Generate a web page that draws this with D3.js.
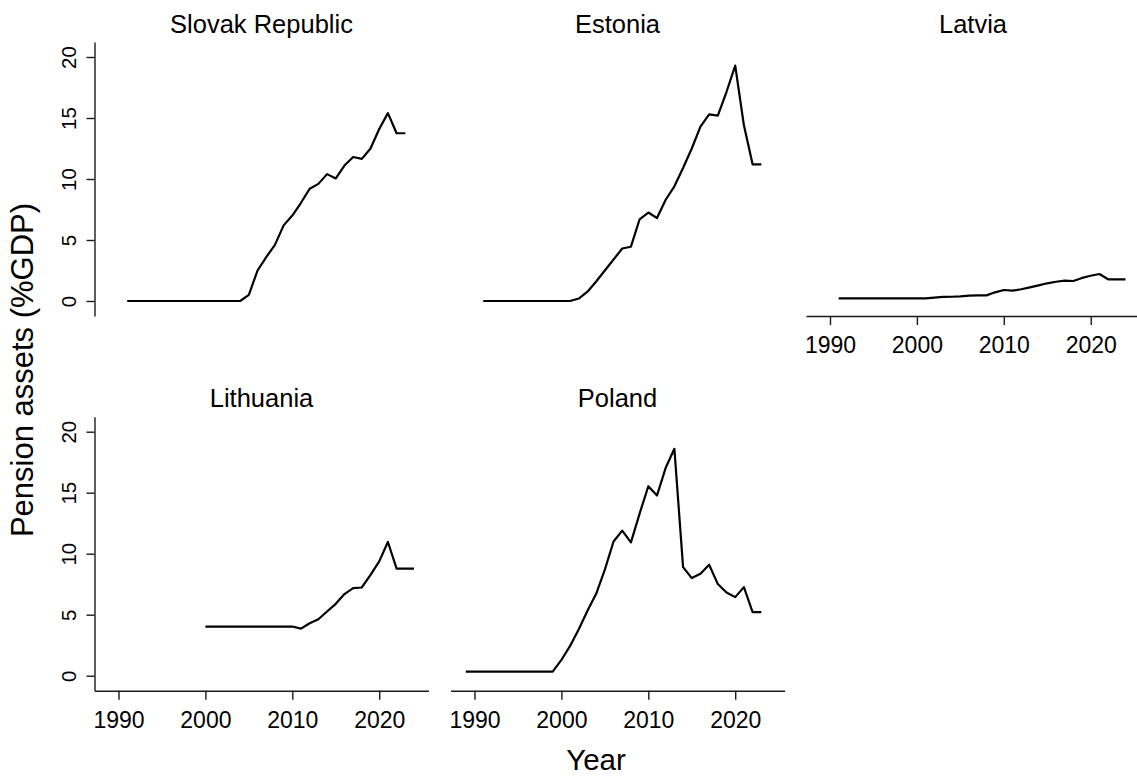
<!DOCTYPE html>
<html>
<head>
<meta charset="utf-8">
<script src="https://d3js.org/d3.v7.min.js"></script>
<style>
  body { margin: 0; background: white; }
  svg, svg text { font-family: "Liberation Sans", Arial, sans-serif; }
  .axis path, .axis line { stroke: #1a1a1a; stroke-width: 1.4; }
  .axis text { fill: #000; }
</style>
</head>
<body>
<svg id="chart" width="1137" height="778"></svg>
<script>
// pension assets, % of GDP
var countries = ["Slovak Republic", "Estonia", "Latvia", "Lithuania", "Poland"];
var startYears = [1991, 1991, 1991, 2000, 1989];

var slovakValues = [0,0,0,0,0,0,0,0,0,0,0,0,0,0,
  0.5, 2.5, 3.6, 4.6, 6.2, 7.0, 8.05, 9.2, 9.6, 10.4, 10.05, 11.1, 11.8, 11.65, 12.5, 14.1, 15.4, 13.75, 13.75];
var estoniaValues = [0,0,0,0,0,0,0,0,0,0,0,
  0.2, 0.76, 1.6, 2.5, 3.4, 4.3, 4.45, 6.7, 7.25, 6.8, 8.3, 9.4, 10.9, 12.5, 14.3, 15.3, 15.2, 17.15, 19.3, 14.4, 11.2, 11.2];
var latviaValues = [0.22,0.22,0.22,0.22,0.22,0.22,0.22,0.22,0.22,0.22,0.22,
  0.27, 0.33, 0.35, 0.38, 0.44, 0.46, 0.46, 0.71, 0.9, 0.85, 0.96, 1.12, 1.28, 1.45, 1.58, 1.67, 1.64, 1.89, 2.07, 2.21, 1.78, 1.78, 1.78];
var lithuaniaValues = [4.03,4.03,4.03,4.03,4.03,4.03,4.03,4.03,4.03,4.03,4.03,
  3.86, 4.3, 4.63, 5.26, 5.89, 6.69, 7.18, 7.23, 8.27, 9.37, 10.96, 8.77, 8.77, 8.77];
var polandValues = [0.33,0.33,0.33,0.33,0.33,0.33,0.33,0.33,0.33,0.33,0.33,
  1.29, 2.44, 3.81, 5.32, 6.71, 8.69, 11.0, 11.89, 10.93, 13.29, 15.53, 14.77, 17.04, 18.6,
  8.9, 8.0, 8.36, 9.1, 7.51, 6.82, 6.44, 7.26, 5.21, 5.21];
var allValues = [slovakValues, estoniaValues, latviaValues, lithuaniaValues, polandValues];

var yTicks = [0, 5, 10, 15, 20];
var xTicks = [1990, 2000, 2010, 2020];

// panel placement: col, row, which axes are shown
var panelCol = [0, 1, 2, 0, 1];
var panelRow = [0, 0, 0, 1, 1];
var showY = [true, false, false, true, false];
var showX = [false, false, true, true, true];

var svg = d3.select("#chart");
var plotW = 334, plotH = 274;
var colX = [94.5, 450.5, 806];
var rowY = [42, 416.7];

var x = d3.scaleLinear().domain([1987.24, 2025.67]).range([0, plotW]);
var y = d3.scaleLinear().domain([-1.23, 21.23]).range([plotH, 0]);

var line = d3.line()
  .x(function(d) { return x(d.year); })
  .y(function(d) { return y(d.value); });

var font = '"Liberation Sans", Arial, sans-serif';

countries.forEach(function(name, i) {
  var g = svg.append("g")
    .attr("transform", "translate(" + colX[panelCol[i]] + "," + rowY[panelRow[i]] + ")");

  g.append("text")
    .attr("x", plotW / 2)
    .attr("y", -9.5)
    .attr("text-anchor", "middle")
    .style("font-size", "25.5px")
    .text(name);

  var data = allValues[i].map(function(v, k) { return {year: startYears[i] + k, value: v}; });
  g.append("path")
    .datum(data)
    .attr("d", line)
    .attr("fill", "none")
    .attr("stroke", "#000")
    .attr("stroke-width", 2.2)
    .attr("stroke-linejoin", "round");

  if (showY[i]) {
    var ya = g.append("g").attr("class", "axis")
      .call(d3.axisLeft(y).tickValues(yTicks).tickSize(8).tickSizeOuter(0));
    ya.attr("font-family", font);
    ya.selectAll(".tick text")
      .attr("transform", "rotate(-90)")
      .attr("x", 0).attr("y", -18.5).attr("dy", 0)
      .attr("text-anchor", "middle")
      .style("font-size", "20.5px");
    ya.select(".domain").attr("fill", "none");
  }
  if (showX[i]) {
    var xa = g.append("g").attr("class", "axis")
      .attr("transform", "translate(0," + plotH + ")")
      .call(d3.axisBottom(x).tickValues(xTicks).tickFormat(d3.format("d")).tickSize(9).tickSizeOuter(0));
    xa.attr("font-family", font);
    xa.selectAll(".tick text")
      .attr("y", 37).attr("dy", 0)
      .style("font-size", "23px");
    xa.select(".domain").attr("fill", "none");
  }
});

// shared axis titles
svg.append("text")
  .attr("transform", "translate(33,370) rotate(-90)")
  .attr("text-anchor", "middle")
  .style("font-size", "31px")
  .text("Pension assets (%GDP)");

svg.append("text")
  .attr("x", 596)
  .attr("y", 770)
  .attr("text-anchor", "middle")
  .style("font-size", "29.5px")
  .text("Year");
</script>
</body>
</html>
